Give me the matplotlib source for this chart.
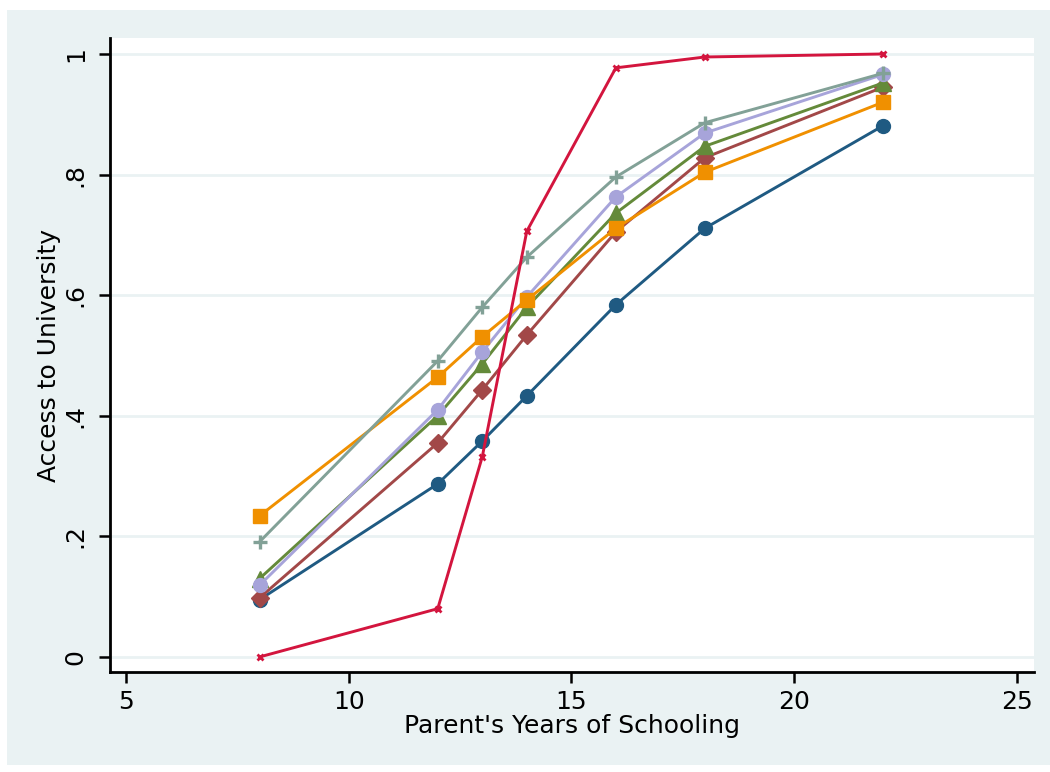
import matplotlib
matplotlib.use("Agg")
import matplotlib.pyplot as plt
from matplotlib.patches import Rectangle

years = [8, 12, 13, 14, 16, 18, 22]
s_blue = [0.095, 0.287, 0.358, 0.433, 0.584, 0.711, 0.881]
s_maroon = [0.098, 0.355, 0.443, 0.534, 0.705, 0.828, 0.945]
s_green = [0.130, 0.400, 0.486, 0.580, 0.736, 0.847, 0.952]
s_lavender = [0.119, 0.410, 0.506, 0.597, 0.763, 0.869, 0.966]
s_orange = [0.234, 0.464, 0.531, 0.592, 0.711, 0.804, 0.920]
s_teal = [0.191, 0.491, 0.580, 0.663, 0.796, 0.886, 0.968]
s_red = [0.0, 0.080, 0.332, 0.706, 0.977, 0.995, 1.0]

xticks = [5, 10, 15, 20, 25]
yticks = [0, 0.2, 0.4, 0.6, 0.8, 1.0]
ytick_labels = ["0", ".2", ".4", ".6", ".8", "1"]

plt.rcParams['font.family'] = ['DejaVu Sans']
W, H = 1050, 772
fig = plt.figure(figsize=(W / 100, H / 100), dpi=100, facecolor="white")
fig.patches.append(Rectangle((7 / W, 1 - 765 / H), (W - 7) / W, (765 - 10) / H,
                             transform=fig.transFigure, facecolor="#EAF2F3",
                             edgecolor="none", zorder=-10))
ax = fig.add_axes([110 / W, 1 - 672 / H, (1034 - 110) / W, (672 - 38) / H])
ax.set_facecolor("white")

for y in yticks:
    ax.axhline(y, color="#EAF2F3", lw=2, zorder=0.5)

lw = 2.1
ax.plot(years, s_blue, color="#1F5A82", lw=lw, marker="o", ms=10, zorder=3)
ax.plot(years, s_maroon, color="#A24848", lw=lw, marker="D", ms=9.5, zorder=3)
ax.plot(years, s_green, color="#648A3A", lw=lw, marker="^", ms=12, zorder=3)
ax.plot(years, s_lavender, color="#A7A4DA", lw=lw, marker="o", ms=10, zorder=3)
ax.plot(years, s_orange, color="#F09000", lw=lw, marker="s", ms=9.5, zorder=3)
ax.plot(years, s_teal, color="#82A197", lw=lw, marker="+", ms=10, mew=2.4, zorder=3)
ax.plot(years, s_red, color="#D3153E", lw=lw, marker="x", ms=4.5, mew=2, zorder=3)

ax.set_xlim(4.64, 25.39)
ax.set_ylim(-0.025, 1.0265)
ax.set_xticks(xticks)
ax.set_yticks(yticks)
ax.set_yticklabels(ytick_labels, rotation=90, va="center")
ax.tick_params(axis="both", length=8, width=1.8, labelsize=18, color="black", pad=5)
ax.tick_params(axis="y", pad=8)
for s in ["top", "right"]:
    ax.spines[s].set_visible(False)
for s in ["left", "bottom"]:
    ax.spines[s].set_linewidth(2)
ax.set_xlabel("Parent's Years of Schooling", fontsize=18, labelpad=0)
ax.set_ylabel("Access to University", fontsize=18, labelpad=2)

fig.savefig("out.png", dpi=100, facecolor=fig.get_facecolor())
